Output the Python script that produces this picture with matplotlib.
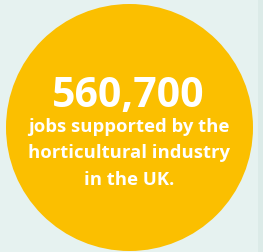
import matplotlib
matplotlib.use("Agg")
import matplotlib.pyplot as plt
from matplotlib.patches import Circle, Rectangle

headline_value = ["560,700"]
caption_lines = ["jobs supported by the", "horticultural industry", "in the UK."]

W, H = 263, 253
fig = plt.figure(figsize=(W / 100, H / 100), dpi=100)
fig.patch.set_facecolor("#e6f2f0")
ax = fig.add_axes([0, 0, 1, 1])
ax.set_xlim(0, W)
ax.set_ylim(H, 0)
ax.axis("off")
ax.set_facecolor("#e6f2f0")

ax.add_patch(Rectangle((258, 0), 5, H, facecolor="#dcebe8", edgecolor="none"))
ax.add_patch(Circle((129.5, 128.5), 123.5, facecolor="#fbbf00", edgecolor="none"))

font = ["Open Sans", "DejaVu Sans"]
ax.text(128, 106.5, headline_value[0], color="white", fontsize=29.5, fontweight="bold",
        family=font, ha="center", va="baseline")
baselines = [132.5, 158.5, 185]
for line, yb in zip(caption_lines, baselines):
    ax.text(129, yb, line, color="white", fontsize=13.3, fontweight="bold",
            family=font, ha="center", va="baseline")

fig.savefig("out.png", dpi=100, facecolor=fig.get_facecolor())
